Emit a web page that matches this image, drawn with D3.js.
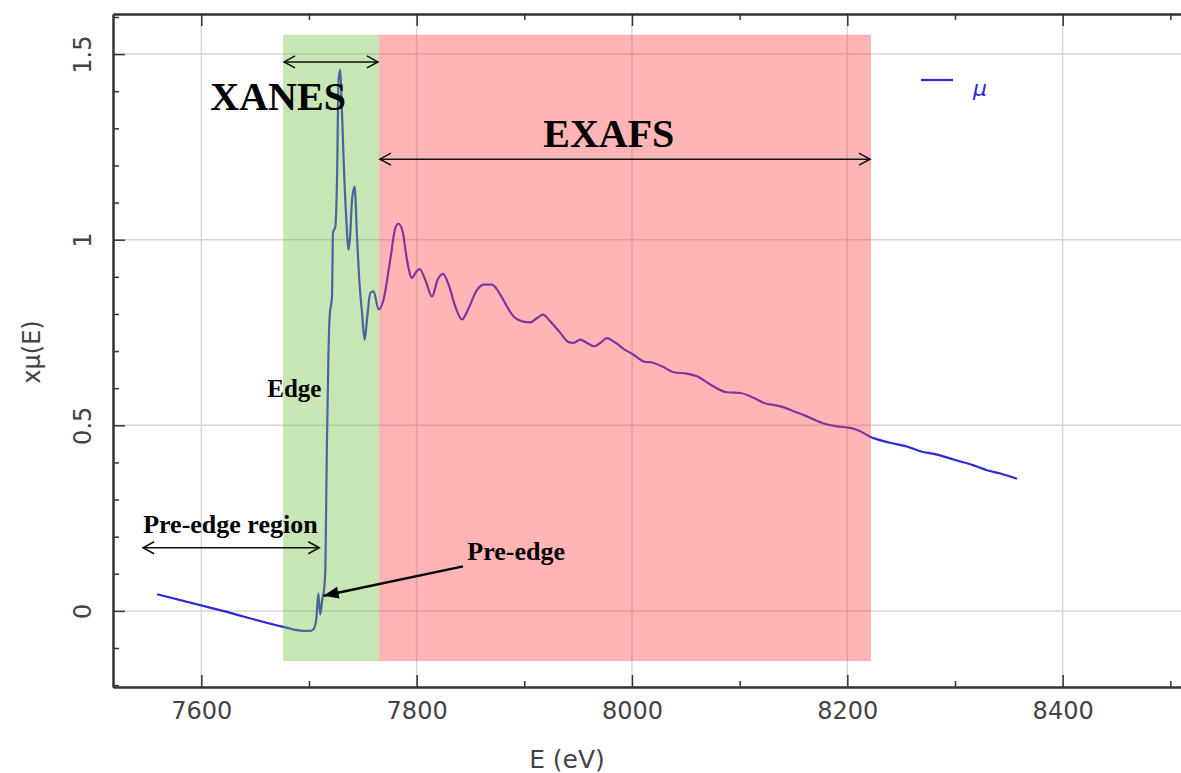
<!DOCTYPE html>
<html>
<head>
<meta charset="utf-8">
<script src="https://cdn.jsdelivr.net/npm/d3@7"></script>
<style>
  body { margin: 0; background: #fff; }
  svg { display: block; }
  .tick text { font-family: "DejaVu Sans", sans-serif; font-size: 24px; fill: #444; }
  .axis path, .axis line { stroke: #333; }
  .axis path { stroke-width: 2; }
  .axis line { stroke-width: 1.5; }
  .note { font-family: "Liberation Serif", "Times New Roman", serif; font-weight: bold; fill: #000; }
</style>
</head>
<body>
<div id="container"></div>
<script>
// spectrum (Co K-edge)
const energy = [7559, 7620, 7676, 7692, 7701, 7704, 7706.8, 7708.7, 7710.5, 7712.4, 7714.2, 7715.2,
  7716.6, 7718, 7719.2, 7721.4, 7722.3, 7724.5, 7726, 7727.5, 7729.1, 7730.7, 7732.2, 7734.7,
  7736.8, 7738.4, 7740, 7742.4, 7744.6, 7746.7, 7749.3, 7751.7, 7753.9, 7757, 7760, 7764.7,
  7769.3, 7775.5, 7780.2, 7783.2, 7787.3, 7791, 7795.7, 7798.8, 7802.8, 7808, 7814.3, 7819.5,
  7824.5, 7829.7, 7835.9, 7842.1, 7848.3, 7856.1, 7862.2, 7870, 7877.7, 7883.9, 7890.1, 7897.9,
  7905.6, 7911.8, 7917.4, 7924.1, 7933.4, 7941.1, 7945.8, 7952, 7958.2, 7965, 7970.6, 7976.8,
  7982.9, 7992.2, 8001.5, 8010.8, 8020.1, 8027.9, 8038.7, 8051.1, 8060.4, 8072.7, 8088.2, 8100.6,
  8113, 8122, 8137.8, 8150.1, 8162.6, 8178, 8190.4, 8202.8, 8212.1, 8221.3, 8239.9, 8255.4,
  8267.8, 8283.3, 8298.7, 8317.3, 8329.7, 8342.1, 8357.6];
const mu = [0.045, 0.000, -0.043, -0.053, -0.054, -0.050, -0.023, 0.047, -0.010, 0.031, 0.063, 0.111,
  0.435, 0.677, 0.793, 0.847, 1.018, 1.036, 1.153, 1.430, 1.458, 1.342, 1.215, 1.054,
  0.973, 1.018, 1.108, 1.143, 1.009, 0.892, 0.803, 0.731, 0.785, 0.857, 0.861, 0.812,
  0.839, 0.946, 1.031, 1.043, 1.018, 0.946, 0.897, 0.910, 0.921, 0.892, 0.847, 0.892,
  0.908, 0.879, 0.820, 0.785, 0.816, 0.865, 0.879, 0.879, 0.852, 0.820, 0.793, 0.780,
  0.777, 0.789, 0.798, 0.780, 0.749, 0.724, 0.722, 0.731, 0.722, 0.713, 0.722, 0.735,
  0.726, 0.706, 0.690, 0.672, 0.668, 0.659, 0.643, 0.639, 0.632, 0.610, 0.589, 0.587,
  0.574, 0.561, 0.551, 0.538, 0.524, 0.505, 0.497, 0.493, 0.484, 0.469, 0.453, 0.443,
  0.430, 0.421, 0.408, 0.392, 0.379, 0.370, 0.356];

const xMajor = [7600, 7800, 8000, 8200, 8400];
const xMinor = [7700, 7900, 8100, 8300, 8500];
const yMajor = [0, 0.5, 1, 1.5];
const yMinor = [-0.2, -0.1, 0.1, 0.2, 0.3, 0.4, 0.6, 0.7, 0.8, 0.9, 1.1, 1.2, 1.3, 1.4, 1.6];

// regions: [from, to] in eV
const xanesRange = [7676, 7765];
const exafsRange = [7765, 8222];
const bandY = [-0.135, 1.552];

const w = 1181;
const h = 773;
const padLeft = 113, padTop = 14, padBottom = 687;

const x = d3.scaleLinear().domain([7518, 8530]).range([padLeft, padLeft + 1012 * 1.0767]);
const y = d3.scaleLinear().domain([-0.205, 1.608]).range([padBottom, padTop]);

const svg = d3.select("#container").append("svg").attr("width", w).attr("height", h);

//Grid
svg.append("g").selectAll("line").data(xMajor).enter().append("line")
  .attr("x1", d => x(d)).attr("x2", d => x(d)).attr("y1", padTop).attr("y2", padBottom)
  .attr("stroke", "#d6d6d6").attr("stroke-width", 1.5);
svg.append("g").selectAll("line").data(yMajor).enter().append("line")
  .attr("x1", padLeft).attr("x2", w).attr("y1", d => y(d)).attr("y2", d => y(d))
  .attr("stroke", "#d6d6d6").attr("stroke-width", 1.5);

//Curve
const line = d3.line().curve(d3.curveMonotoneX).x((d, i) => x(energy[i])).y(d => y(d));
svg.append("path").datum(mu).attr("d", line)
  .attr("fill", "none").attr("stroke", "#2a2ad8").attr("stroke-width", 2.2)
  .attr("stroke-linejoin", "round");

//Shaded regions (drawn over the curve, see-through)
svg.append("rect")
  .attr("x", x(xanesRange[0])).attr("width", x(xanesRange[1]) - x(xanesRange[0]))
  .attr("y", y(bandY[1])).attr("height", y(bandY[0]) - y(bandY[1]))
  .attr("fill", "rgb(118,192,68)").attr("opacity", 0.4);
svg.append("rect")
  .attr("x", x(exafsRange[0])).attr("width", x(exafsRange[1]) - x(exafsRange[0]))
  .attr("y", y(bandY[1])).attr("height", y(bandY[0]) - y(bandY[1]))
  .attr("fill", "rgb(255,70,70)").attr("opacity", 0.4);

//Axes
function styleAxis(g) { g.attr("class", "axis"); }
svg.append("g").attr("transform", "translate(0," + padBottom + ")").call(styleAxis)
  .call(d3.axisBottom(x).tickValues(xMajor).tickSize(-12).tickSizeOuter(0).tickPadding(15).tickFormat(d3.format("d")));
svg.append("g").attr("transform", "translate(0," + padBottom + ")").call(styleAxis)
  .call(d3.axisBottom(x).tickValues(xMinor).tickSize(-6).tickSizeOuter(0).tickFormat(""));
svg.append("g").attr("transform", "translate(0," + padTop + ")").call(styleAxis)
  .call(d3.axisTop(x).tickValues(xMajor).tickSize(-12).tickSizeOuter(0).tickFormat(""));
svg.append("g").attr("transform", "translate(0," + padTop + ")").call(styleAxis)
  .call(d3.axisTop(x).tickValues(xMinor).tickSize(-6).tickSizeOuter(0).tickFormat(""));

const yAxis = svg.append("g").attr("transform", "translate(" + padLeft + ",0)").call(styleAxis)
  .call(d3.axisLeft(y).tickValues(yMajor).tickSize(-12).tickSizeOuter(0).tickFormat(d3.format("")));
yAxis.selectAll("text")
  .attr("x", null).attr("dy", null)
  .attr("text-anchor", "middle")
  .attr("transform", "translate(-22,0) rotate(-90)");
svg.append("g").attr("transform", "translate(" + padLeft + ",0)").call(styleAxis)
  .call(d3.axisLeft(y).tickValues(yMinor).tickSize(-6).tickSizeOuter(0).tickFormat(""));

//Axis titles
svg.append("text")
  .attr("transform", "translate(40,352) rotate(-90)")
  .attr("text-anchor", "middle")
  .style("font-family", "DejaVu Sans, sans-serif").style("font-size", "24px").style("fill", "#444")
  .text("xμ(E)");
svg.append("text")
  .attr("x", 567).attr("y", 768)
  .attr("text-anchor", "middle")
  .style("font-family", "DejaVu Sans, sans-serif").style("font-size", "25px").style("fill", "#444")
  .text("E (eV)");

//Arrow heads
const defs = svg.append("defs");
defs.append("marker").attr("id", "open").attr("viewBox", "-12 -7 14 14")
  .attr("markerWidth", 14).attr("markerHeight", 14).attr("markerUnits", "userSpaceOnUse")
  .attr("refX", 0).attr("refY", 0).attr("orient", "auto-start-reverse")
  .append("path").attr("d", "M-11,-6 L0,0 L-11,6").attr("fill", "none").attr("stroke", "#111").attr("stroke-width", 1.6);
defs.append("marker").attr("id", "solid").attr("viewBox", "-16 -8 18 16")
  .attr("markerWidth", 18).attr("markerHeight", 16).attr("markerUnits", "userSpaceOnUse")
  .attr("refX", 0).attr("refY", 0).attr("orient", "auto")
  .append("path").attr("d", "M-15,-6 L0,0 L-15,6 Z").attr("fill", "#000");

function doubleArrow(e0, e1, v) {
  svg.append("line")
    .attr("x1", x(e0) + 1).attr("x2", x(e1) - 1).attr("y1", y(v)).attr("y2", y(v))
    .attr("stroke", "#111").attr("stroke-width", 1.5)
    .attr("marker-start", "url(#open)").attr("marker-end", "url(#open)");
}
function note(e, v, size, str) {
  svg.append("text").attr("class", "note")
    .attr("x", x(e)).attr("y", y(v)).style("font-size", size + "px").text(str);
}

doubleArrow(xanesRange[0], xanesRange[1], 1.479);
doubleArrow(exafsRange[0], exafsRange[1], 1.217);
doubleArrow(7545, 7710.5, 0.170);

note(7608.4, 1.350, 40, "XANES");
note(7917.6, 1.250, 40, "EXAFS");
note(7661.3, 0.575, 25, "Edge");
note(7546, 0.211, 26, "Pre-edge region");
note(7847.1, 0.136, 26, "Pre-edge");

svg.append("line")
  .attr("x1", x(7843.1)).attr("y1", y(0.120))
  .attr("x2", x(7713.6)).attr("y2", y(0.041))
  .attr("stroke", "#000").attr("stroke-width", 2.5)
  .attr("marker-end", "url(#solid)");

//Legend
svg.append("line").attr("x1", 921).attr("x2", 953).attr("y1", 80).attr("y2", 80)
  .attr("stroke", "#2a2ad8").attr("stroke-width", 2.2);
svg.append("text").attr("x", 973).attr("y", 96)
  .style("font-family", "DejaVu Sans, sans-serif").style("font-style", "italic")
  .style("font-size", "22px").style("fill", "#2a2ad8")
  .text("μ");
</script>
</body>
</html>
